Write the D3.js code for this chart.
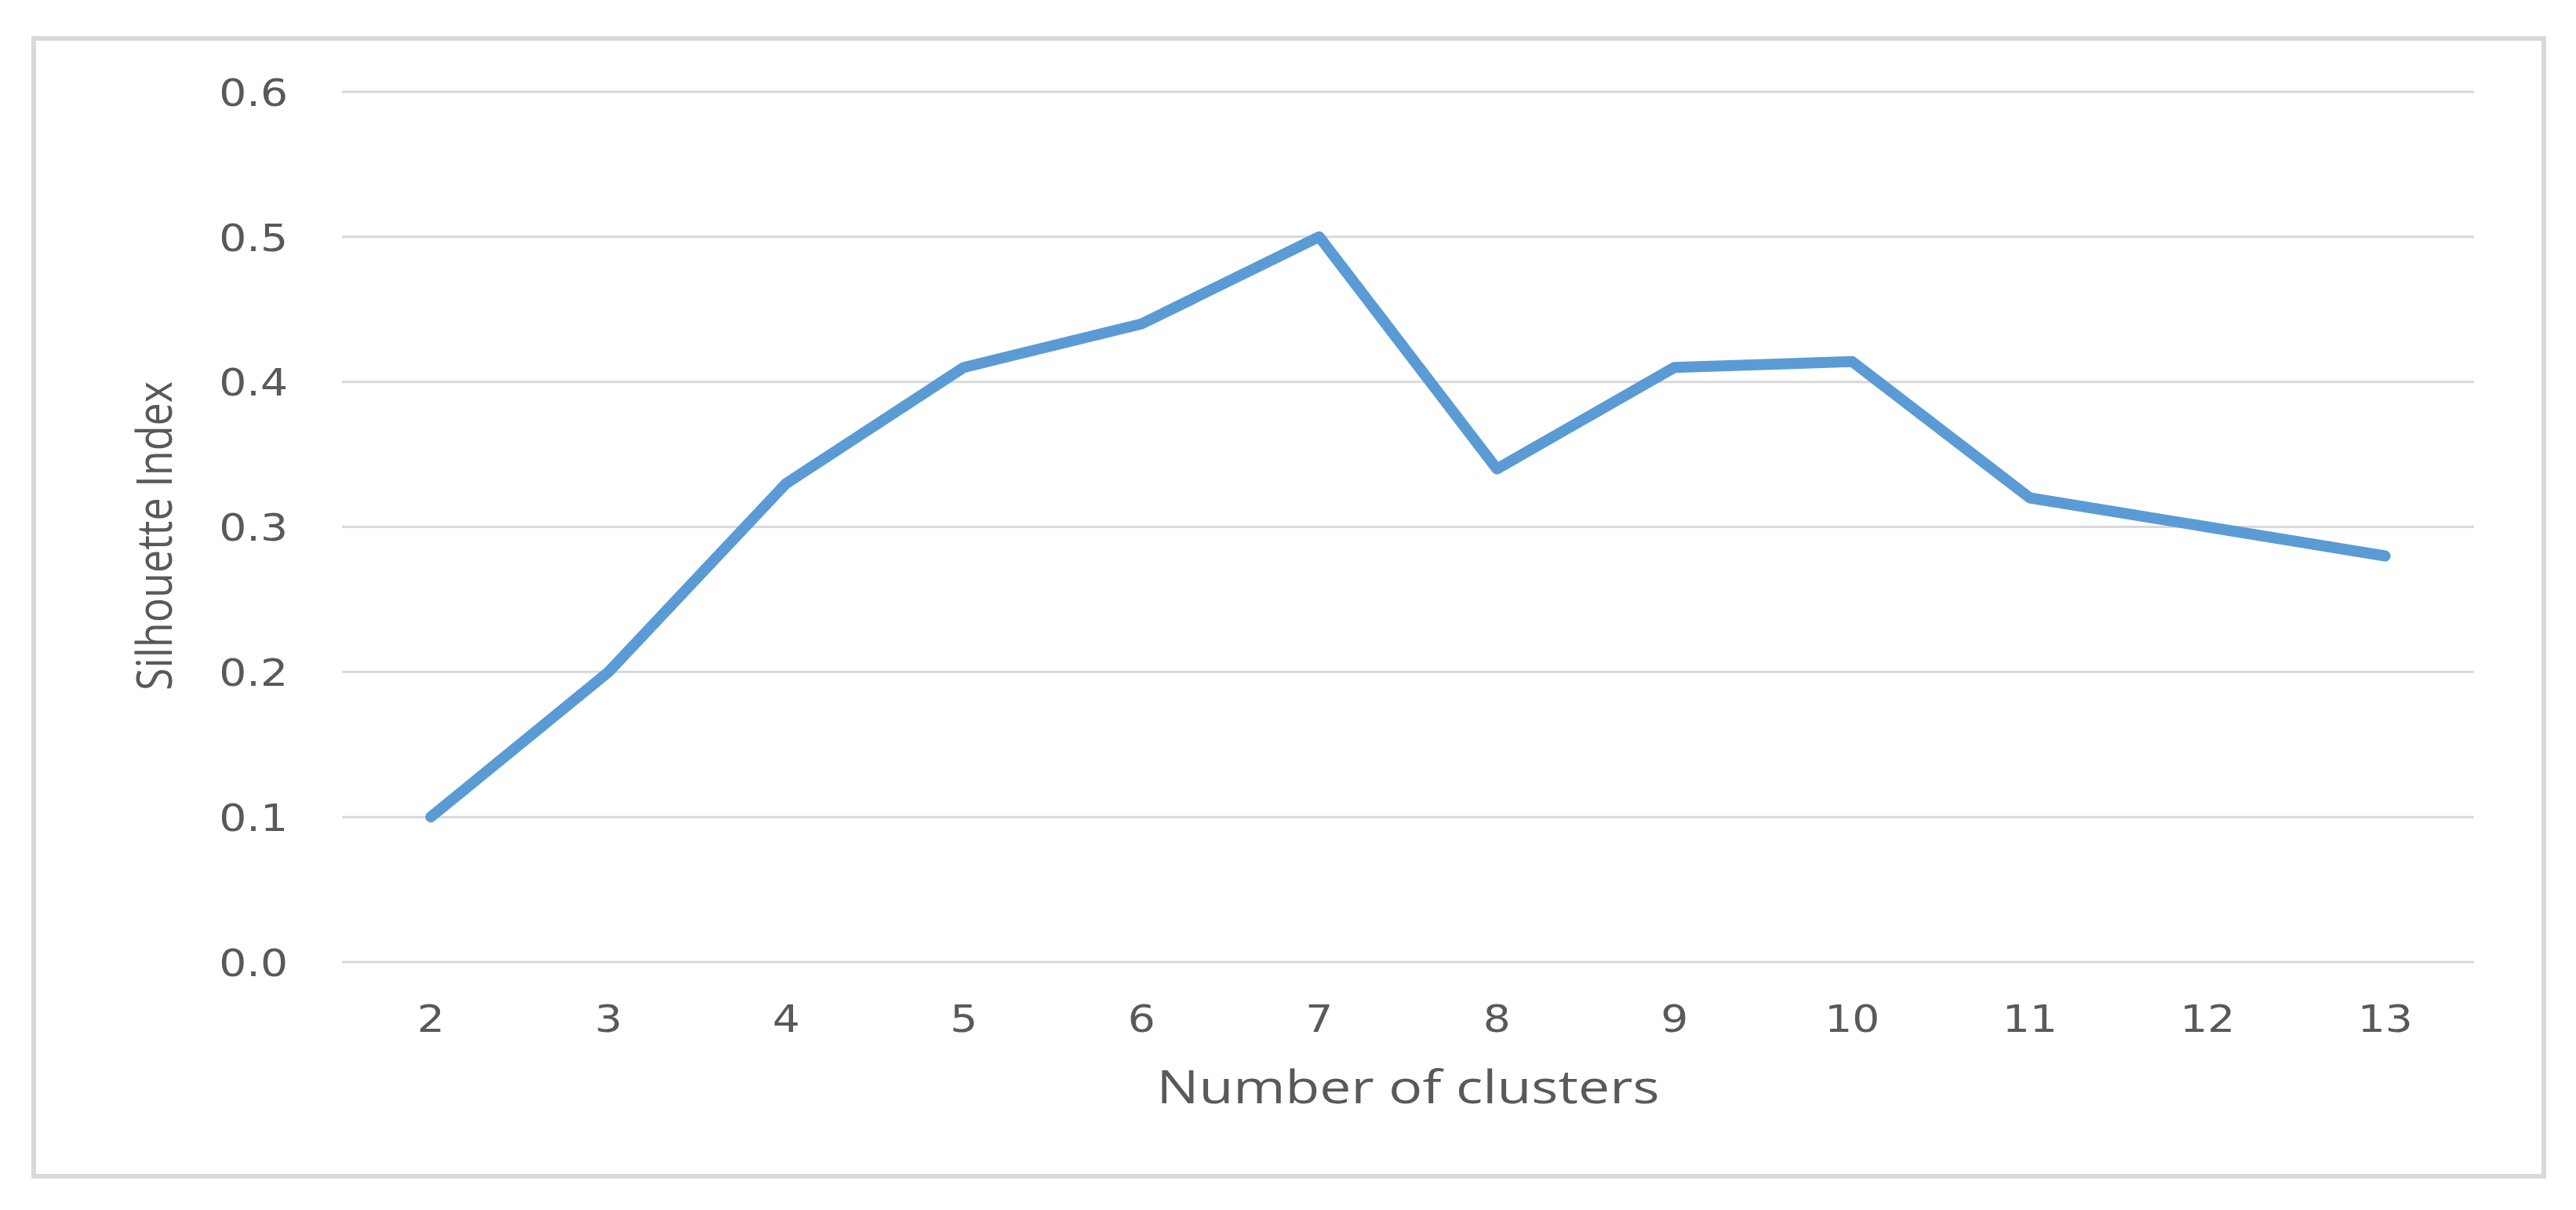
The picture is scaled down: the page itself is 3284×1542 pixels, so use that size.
<!DOCTYPE html>
<html>
<head>
<meta charset="utf-8">
<script src="https://cdn.jsdelivr.net/npm/d3@7"></script>
<style>
  html, body { margin: 0; padding: 0; background: #ffffff; }
  svg { display: block; }
</style>
</head>
<body>
<script>
// ---- data ----
const categories = ["2", "3", "4", "5", "6", "7", "8", "9", "10", "11", "12", "13"];
const silhouette = [0.10, 0.20, 0.33, 0.41, 0.44, 0.50, 0.34, 0.41, 0.414, 0.32, 0.30, 0.28];
const yTicks = [0.0, 0.1, 0.2, 0.3, 0.4, 0.5, 0.6];
const xTitle = "Number of clusters";
const yTitle = "Silhouette Index";

// ---- layout ----
const W = 3284, H = 1542;
const plot = { left: 436, right: 3154, top: 117, bottom: 1226 };

const svg = d3.select("body").append("svg")
  .attr("width", W).attr("height", H);

svg.append("rect").attr("width", W).attr("height", H).attr("fill", "#ffffff");

// outer frame
svg.append("rect")
  .attr("x", 43).attr("y", 49)
  .attr("width", 3200).attr("height", 1450)
  .attr("fill", "none")
  .attr("stroke", "#d9d9d9")
  .attr("stroke-width", 6);

const x = d3.scaleBand().domain(categories).range([plot.left, plot.right]).padding(0);
const y = d3.scaleLinear().domain([0, 0.6]).range([plot.bottom, plot.top]);

// gridlines
svg.append("g").selectAll("line").data(yTicks).join("line")
  .attr("x1", plot.left).attr("x2", plot.right)
  .attr("y1", d => y(d)).attr("y2", d => y(d))
  .attr("stroke", "#d9d9d9").attr("stroke-width", 3);

// y-axis labels
const yAxis = d3.axisLeft(y).tickValues(yTicks).tickFormat(d3.format(".1f")).tickSize(0).tickPadding(0);
const gy = svg.append("g").attr("transform", `translate(367,0)`).call(yAxis);
gy.select(".domain").remove();
gy.selectAll("text")
  .attr("fill", "#595959")
  .style("font-family", "'DejaVu Sans', sans-serif")
  .style("font-size", "48px")
  .attr("dy", "0.36em")
  .attr("transform", "scale(1.15,1)");

// x-axis labels
const xAxis = d3.axisBottom(x).tickSize(0).tickPadding(0);
const gx = svg.append("g").attr("transform", `translate(0,1298)`).call(xAxis);
gx.select(".domain").remove();
gx.selectAll("text")
  .attr("fill", "#595959")
  .style("font-family", "'DejaVu Sans', sans-serif")
  .style("font-size", "48px")
  .attr("y", 0)
  .attr("dy", "0.36em")
  .attr("transform", "scale(1.15,1)");

// line
const line = d3.line()
  .x((d, i) => x(categories[i]) + x.bandwidth() / 2)
  .y(d => y(d));

svg.append("path")
  .datum(silhouette)
  .attr("d", line)
  .attr("fill", "none")
  .attr("stroke", "#5b9bd5")
  .attr("stroke-width", 14)
  .attr("stroke-linejoin", "round")
  .attr("stroke-linecap", "round");

// axis titles
svg.append("text")
  .attr("x", (plot.left + plot.right) / 2)
  .attr("y", 1386)
  .attr("dy", "0.35em")
  .attr("text-anchor", "middle")
  .attr("fill", "#595959")
  .style("font-family", "'Open Sans', sans-serif")
  .style("font-size", "58px")
  .attr("textLength", 641)
  .attr("lengthAdjust", "spacingAndGlyphs")
  .text(xTitle);

svg.append("text")
  .attr("transform", `translate(197,683) rotate(-90)`)
  .attr("dy", "0.35em")
  .attr("text-anchor", "middle")
  .attr("fill", "#595959")
  .style("font-family", "'Open Sans', sans-serif")
  .style("font-size", "62px")
  .attr("textLength", 394)
  .attr("lengthAdjust", "spacingAndGlyphs")
  .text(yTitle);
</script>
</body>
</html>
